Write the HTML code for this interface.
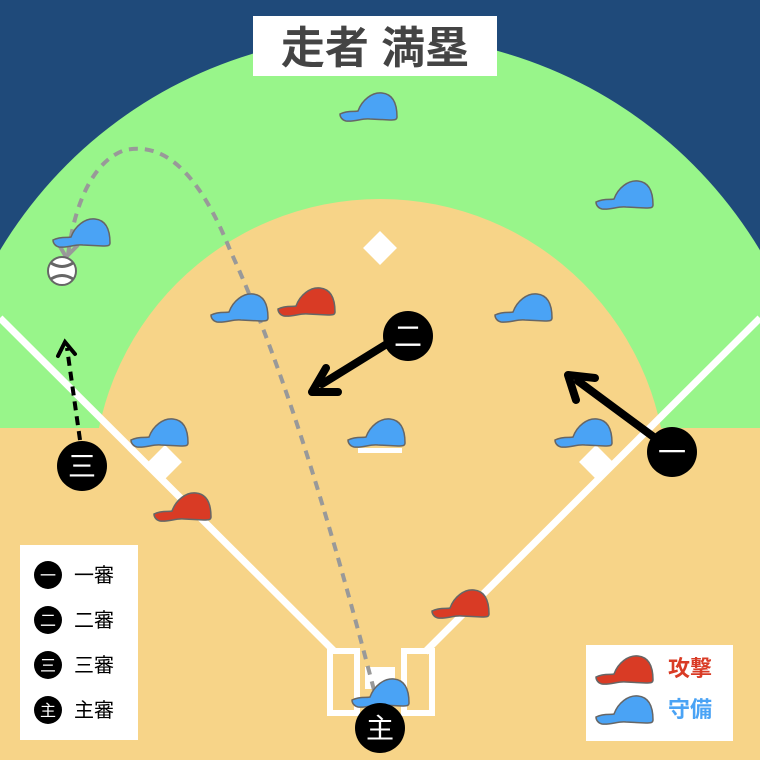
<!DOCTYPE html>
<html><head><meta charset="utf-8"><style>html,body{margin:0;width:760px;height:760px;overflow:hidden}svg{display:block}text{font-family:"Liberation Sans","Noto Sans CJK JP",sans-serif}</style></head><body>
<svg width="760" height="760" viewBox="0 0 760 760" xmlns="http://www.w3.org/2000/svg">
<defs>
<path id="hat" d="M0,22 C8,18 15,20 18,19 C22,8 32,0 42,1 C52,2 57,10 57,25 C57,28 54,28 50,28 L30,27 C22,26 15,30 6,29 C2,28 0,25 0,22 Z" stroke="#666" stroke-width="1.5"/>
<clipPath id="top"><rect x="0" y="0" width="760" height="428"/></clipPath>
</defs>
<rect width="760" height="760" fill="#1f4a7a"/>
<circle cx="380" cy="478" r="443" fill="#98f58a" clip-path="url(#top)"/>
<rect x="0" y="428" width="760" height="332" fill="#f7d488"/>
<circle cx="380" cy="486" r="287" fill="#f7d488"/>
<line x1="0" y1="318" x2="335" y2="652" stroke="#fff" stroke-width="7"/>
<line x1="760" y1="318" x2="425" y2="652" stroke="#fff" stroke-width="7"/>
<rect x="368" y="236" width="24" height="24" fill="#fff" transform="rotate(45 380 248)"/>
<rect x="153" y="450" width="24" height="24" fill="#fff" transform="rotate(45 165 462)"/>
<rect x="584" y="450" width="24" height="24" fill="#fff" transform="rotate(45 596 462)"/>
<rect x="358" y="448" width="44" height="5" fill="#fff"/>
<rect x="330" y="651" width="27" height="62" fill="none" stroke="#fff" stroke-width="6"/>
<rect x="404" y="651" width="28" height="62" fill="none" stroke="#fff" stroke-width="6"/>
<rect x="365" y="667" width="30" height="22" fill="#fff"/>
<path d="M374,690 C340,560 290,380 230,250 C190,150 150,145 125,150 C95,160 75,200 68,255" fill="none" stroke="#999" stroke-width="4" stroke-dasharray="9,7"/>
<path d="M58,243 L66,257 L78,245" fill="none" stroke="#999" stroke-width="4"/>
<g fill="#4aa3f5">
<use href="#hat" x="340" y="92"/>
<use href="#hat" x="596" y="180"/>
<use href="#hat" x="53" y="218"/>
<use href="#hat" x="211" y="293"/>
<use href="#hat" x="495" y="293"/>
<use href="#hat" x="131" y="418"/>
<use href="#hat" x="348" y="418"/>
<use href="#hat" x="555" y="418"/>
<use href="#hat" x="352" y="678"/>
</g>
<g fill="#d93b25">
<use href="#hat" x="278" y="287"/>
<use href="#hat" x="154" y="492"/>
<use href="#hat" x="432" y="589"/>
</g>
<circle cx="62" cy="271" r="14" fill="#fff" stroke="#666" stroke-width="2"/>
<path d="M51,263 Q62,270 73,263 M51,279 Q62,272 73,279" fill="none" stroke="#666" stroke-width="3"/>
<line x1="390" y1="342" x2="322" y2="384" stroke="#000" stroke-width="8" stroke-linecap="round"/>
<path d="M312,392 L326,368 M312,392 L338,392" stroke="#000" stroke-width="8" stroke-linecap="round" fill="none"/>
<line x1="655" y1="438" x2="578" y2="381" stroke="#000" stroke-width="8" stroke-linecap="round"/>
<path d="M568,375 L595,378 M568,375 L576,400" stroke="#000" stroke-width="8" stroke-linecap="round" fill="none"/>
<line x1="80" y1="440" x2="67" y2="348" stroke="#000" stroke-width="4" stroke-dasharray="9,6"/>
<path d="M58,356 L65,342 L75,354" fill="none" stroke="#000" stroke-width="4" stroke-linecap="round"/>
<g fill="#000"><circle cx="408" cy="336" r="25"/><circle cx="672" cy="452" r="25"/><circle cx="82" cy="466" r="25"/><circle cx="380" cy="728" r="25"/></g>
<g fill="#fff" font-size="28" text-anchor="middle">
<text x="408" y="346">二</text><text x="672" y="462">一</text><text x="82" y="476">三</text><text x="380" y="738">主</text>
</g>
<rect x="253" y="16" width="244" height="60" fill="#fff"/>
<text x="375" y="63" font-size="44" fill="#444" text-anchor="middle" font-weight="bold">走者 満塁</text>
<rect x="20" y="545" width="118" height="195" fill="#fff"/>
<g fill="#000"><circle cx="48" cy="575" r="14"/><circle cx="48" cy="620" r="14"/><circle cx="48" cy="665" r="14"/><circle cx="48" cy="710" r="14"/></g>
<g fill="#fff" font-size="16" text-anchor="middle"><text x="48" y="581">一</text><text x="48" y="626">二</text><text x="48" y="671">三</text><text x="48" y="716">主</text></g>
<g fill="#000" font-size="20"><text x="74" y="582">一審</text><text x="74" y="627">二審</text><text x="74" y="672">三審</text><text x="74" y="717">主審</text></g>
<rect x="586" y="645" width="147" height="96" fill="#fff"/>
<use href="#hat" x="596" y="655" fill="#d93b25"/>
<use href="#hat" x="596" y="695" fill="#4aa3f5"/>
<text x="668" y="676" font-size="22" fill="#d93b25" font-weight="bold">攻撃</text>
<text x="668" y="717" font-size="22" fill="#4aa3f5" font-weight="bold">守備</text>
</svg>
</body></html>
